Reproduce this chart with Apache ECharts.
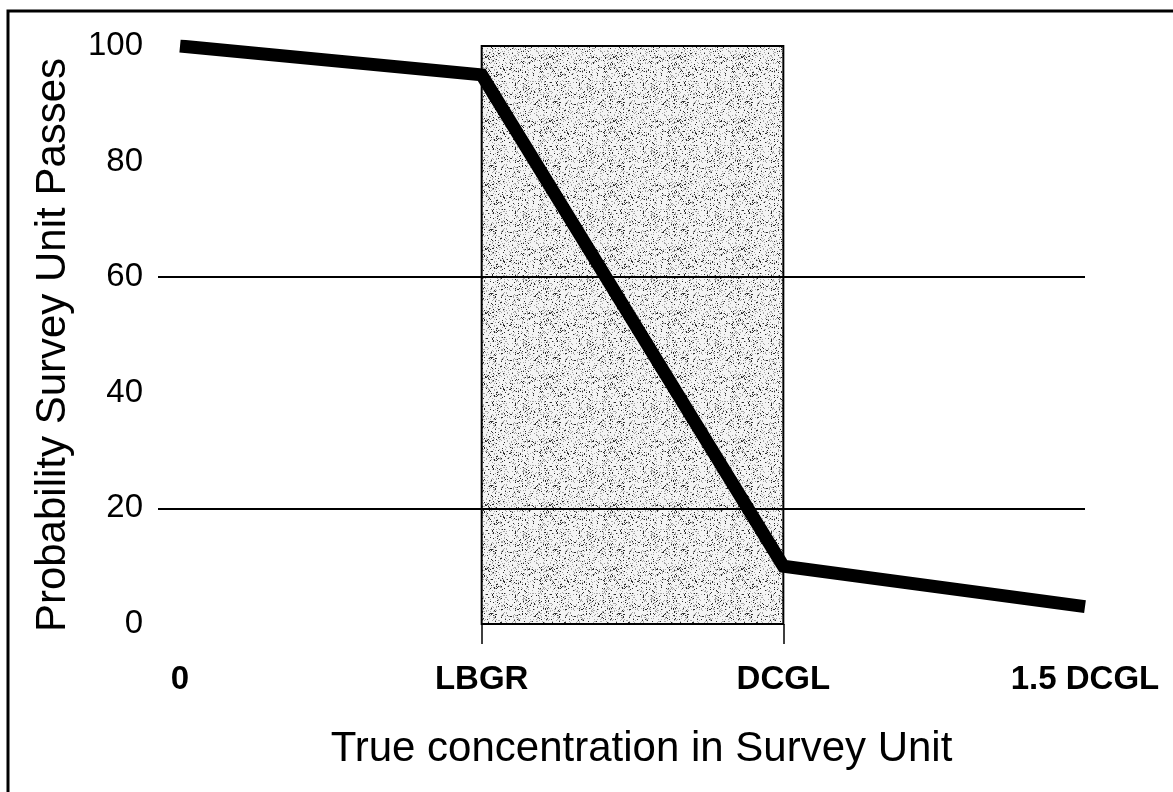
<!DOCTYPE html>
<html>
<head>
<meta charset="utf-8">
<script src="https://cdn.jsdelivr.net/npm/echarts@6/dist/echarts.min.js"></script>
<style>
html,body{margin:0;padding:0;background:#fff;}
#chart{width:1173px;height:792px;}
</style>
</head>
<body>
<div id="chart"></div>
<script>
// ---- data ----
const categories = ['0', 'LBGR', 'DCGL', '1.5 DCGL'];
const passProbability = [100, 95, 10, 3];
const shadedFrom = 'LBGR';
const shadedTo = 'DCGL';
const shadedLow = 0;
const shadedHigh = 100;
const gridValues = [20, 60];
const tickCategories = ['LBGR', 'DCGL'];

// ---- build ----
const idx = name => categories.indexOf(name);
const lineData = categories.map((c, i) => [i, passProbability[i]]);
const rectData = [[idx(shadedFrom), idx(shadedTo), shadedLow, shadedHigh]];

// stipple texture for the shaded region (fixed integer hash, purely decorative)
function makePattern() {
  const W = 64, H = 64;
  const c = document.createElement('canvas');
  c.width = W; c.height = H;
  const ctx = c.getContext('2d');
  ctx.fillStyle = '#f4f4f4';
  ctx.fillRect(0, 0, W, H);
  for (let y = 0; y < H; y++) {
    for (let x = 0; x < W; x++) {
      let h = (x * 374761393 + y * 668265263) | 0;
      h = (h ^ (h >>> 13)) * 1274126177 | 0;
      h = (h ^ (h >>> 16)) >>> 0;
      const r = h % 100;
      if (r < 7) { ctx.fillStyle = '#2a2a2a'; ctx.fillRect(x, y, 1, 1); }
      else if (r < 20) { ctx.fillStyle = '#a8a8a8'; ctx.fillRect(x, y, 1, 1); }
    }
  }
  return c;
}
const pattern = makePattern();

const chart = echarts.init(document.getElementById('chart'), null, {renderer: 'canvas'});
const FONT = '"Liberation Sans", Arial, Helvetica, sans-serif';

chart.setOption({
  animation: false,
  backgroundColor: '#fff',
  grid: {left: 158, right: 88, top: 46, bottom: 168, containLabel: false},
  graphic: [{
    type: 'rect', silent: true, z: 100,
    shape: {x: 8, y: 11, width: 1400, height: 1000},
    style: {fill: null, stroke: '#000', lineWidth: 3}
  }],
  xAxis: {
    type: 'value',
    min: -0.073, max: 3,
    axisLine: {show: false},
    splitLine: {show: false},
    axisTick: {
      show: true, customValues: tickCategories.map(idx), length: 20,
      lineStyle: {color: '#000', width: 1.5}
    },
    axisLabel: {
      customValues: categories.map((c, i) => i),
      formatter: v => categories[Math.round(v)],
      color: '#000', fontFamily: FONT, fontWeight: 'bold', fontSize: 33, margin: 39
    },
    name: 'True concentration in Survey Unit',
    nameLocation: 'middle',
    nameGap: 104,
    nameTextStyle: {color: '#000', fontFamily: FONT, fontSize: 42, padding: [0, 0, 0, 40]}
  },
  yAxis: {
    type: 'value',
    min: 0, max: 100, interval: 20,
    axisLine: {show: false},
    axisTick: {show: false},
    splitLine: {show: false},
    axisLabel: {color: '#000', fontFamily: FONT, fontSize: 33, margin: 15},
    name: 'Probability Survey Unit Passes',
    nameLocation: 'middle',
    nameGap: 84,
    nameTextStyle: {color: '#000', fontFamily: FONT, fontSize: 42, padding: [0, 20, 0, 0]}
  },
  series: [
    {
      type: 'line', z: 1, data: [], silent: true,
      markLine: {
        silent: true, symbol: ['none', 'none'], label: {show: false},
        lineStyle: {color: '#000', width: 2, type: 'solid'},
        data: gridValues.map(v => ({yAxis: v}))
      }
    },
    {
      type: 'custom', z: 2, silent: true,
      data: rectData,
      renderItem: function (params, api) {
        const p0 = api.coord([api.value(0), api.value(3)]);
        const p1 = api.coord([api.value(1), api.value(2)]);
        return {
          type: 'rect',
          shape: {x: p0[0], y: p0[1], width: p1[0] - p0[0], height: p1[1] - p0[1]},
          style: {fill: {image: pattern, repeat: 'repeat'}, stroke: '#000', lineWidth: 2}
        };
      },
      encode: {x: [0, 1], y: [2, 3]}
    },
    {
      type: 'line', z: 3, data: lineData,
      symbol: 'none', silent: true,
      lineStyle: {color: '#000', width: 13, cap: 'butt', join: 'miter'}
    }
  ]
});
</script>
</body>
</html>
